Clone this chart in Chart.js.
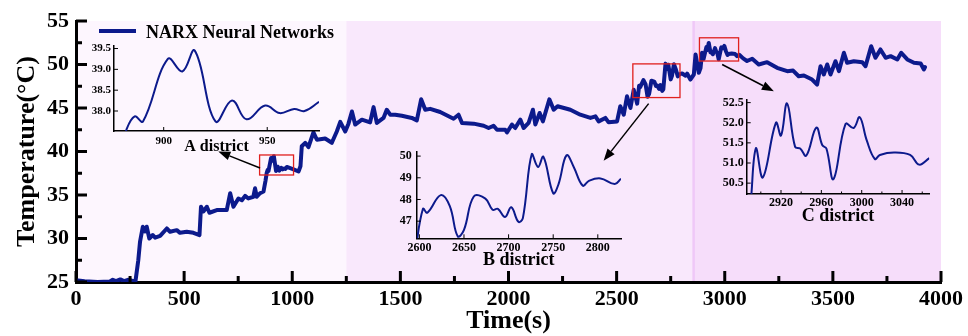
<!DOCTYPE html>
<html>
<head>
<meta charset="utf-8">
<script src="https://cdn.jsdelivr.net/npm/chart.js@4.4.0/dist/chart.umd.min.js"></script>
<style>
  body { margin: 0; background: #fff; }
  #wrap { position: relative; width: 968px; height: 336px; overflow: hidden; }
  canvas { position: absolute; }
  .legend-line { position: absolute; left: 99px; top: 29px; width: 37px; height: 4px; background: #0c1a8c; }
  .legend-text { position: absolute; left: 146px; top: 23px; font: bold 18px 'Liberation Serif', serif; line-height: 18px; color: #000; white-space: nowrap; }
</style>
</head>
<body>
<div id="wrap">
  <canvas id="main" width="968" height="336" style="left:0;top:0"></canvas>
  <canvas id="insetA" width="250" height="124" style="left:84px;top:36px"></canvas>
  <canvas id="insetB" width="250" height="132" style="left:380px;top:140px"></canvas>
  <canvas id="insetC" width="228" height="140" style="left:712px;top:90px"></canvas>
  <div class="legend-line"></div>
  <div class="legend-text">NARX Neural Networks</div>
</div>
<script>
// ---- data ----
const mainTime = [0, 40, 100, 157, 170, 185, 205, 222, 240, 260, 275, 288, 296, 309, 319, 327, 339, 355, 366, 389,
  420, 435, 466, 481, 512, 543, 571, 578, 589, 605, 617, 651, 697, 705, 713, 728, 751, 767, 782, 797,
  820, 828, 836, 851, 867, 876, 882, 886, 890, 902, 909, 915, 925, 933, 940, 949, 956, 963, 968, 975,
  1006, 1029, 1038, 1044, 1060, 1075, 1098, 1114, 1152, 1183, 1206, 1222, 1245, 1260, 1276, 1291, 1322, 1360, 1376, 1391,
  1422, 1437, 1453, 1476, 1507, 1553, 1576, 1596, 1615, 1638, 1684, 1746, 1769, 1785, 1839, 1885, 1908, 1931, 1947, 1985,
  1993, 2016, 2031, 2055, 2070, 2093, 2113, 2124, 2144, 2159, 2189, 2209, 2227, 2286, 2332, 2379, 2402, 2417, 2448, 2463,
  2502, 2517, 2533, 2548, 2564, 2579, 2595, 2604, 2609, 2624, 2634, 2643, 2650, 2661, 2674, 2682, 2688, 2696, 2703, 2711,
  2716, 2726, 2733, 2739, 2750, 2756, 2765, 2773, 2783, 2790, 2803, 2819, 2826, 2841, 2857, 2865, 2880, 2888, 2895, 2902,
  2915, 2920, 2926, 2934, 2939, 2945, 2955, 2961, 2965, 2972, 2984, 2992, 2998, 3005, 3013, 3018, 3032, 3048, 3057, 3067,
  3085, 3103, 3127, 3157, 3196, 3242, 3289, 3316, 3342, 3366, 3404, 3427, 3443, 3458, 3474, 3489, 3512, 3528, 3551, 3566,
  3597, 3636, 3651, 3677, 3697, 3720, 3744, 3767, 3798, 3816, 3844, 3875, 3906, 3921, 3926];
const mainTemp = [25.2, 25.1, 25.0, 25.05, 25.25, 25.1, 25.3, 25.1, 25.25, 25.15, 25.1, 27.5, 29.6, 31.35, 30.8, 31.35, 30.0, 30.4, 30.1, 30.3,
  31.15, 30.77, 30.96, 30.65, 30.77, 30.65, 30.39, 33.65, 33.1, 33.65, 32.96, 33.27, 33.27, 34.23, 35.2, 33.65, 34.6, 34.4, 34.9, 34.6,
  34.8, 35.77, 34.8, 35.2, 35.4, 36.6, 37.55, 37.87, 37.75, 39.25, 38.95, 39.45, 37.75, 38.25, 37.8, 38.13, 37.95, 38.05, 38.0, 38.22,
  37.95, 37.7, 38.3, 40.6, 41.0, 40.5, 42.2, 41.35, 41.5, 41.0, 42.3, 43.4, 42.3, 43.2, 44.6, 43.1, 43.66, 43.35, 45.1, 43.28,
  43.86, 44.8, 44.23, 44.23, 44.1, 43.86, 43.58, 46.0, 44.8, 44.9, 44.54, 43.77, 44.23, 43.28, 43.2, 42.96, 42.7, 42.96, 42.5, 42.5,
  42.19, 43.1, 42.7, 43.66, 42.7, 43.28, 44.8, 43.1, 44.43, 43.46, 46.0, 44.8, 45.2, 44.8, 44.23, 43.86, 44.04, 43.46, 43.86, 43.35,
  43.46, 45.2, 44.23, 46.35, 45.0, 47.1, 45.5, 47.57, 47.39, 48.2, 47.7, 46.3, 46.6, 48.14, 48.04, 47.53, 47.57, 47.19, 47.64, 46.97,
  47.14, 50.1, 49.5, 49.97, 48.29, 48.71, 50.04, 49.5, 48.64, 48.86, 48.97, 48.71, 48.96, 48.27, 48.85, 51.16, 49.04, 49.6, 51.36, 50.64,
  52.0, 51.68, 52.48, 51.4, 51.36, 51.18, 51.88, 51.44, 51.36, 50.6, 51.97, 51.87, 52.14, 51.56, 51.1, 51.2, 51.26, 51.2, 50.96, 51.12,
  50.7, 50.4, 50.66, 50.0, 50.27, 49.62, 49.23, 49.3, 48.65, 48.73, 48.27, 47.7, 49.8, 48.85, 50.0, 48.85, 50.38, 49.23, 51.35, 50.2,
  50.38, 50.27, 49.8, 52.1, 50.77, 51.73, 50.77, 50.96, 50.58, 51.35, 50.58, 50.2, 50.12, 49.43, 49.7];

// A district
const aTime = [876, 882, 886, 890, 902, 909, 915, 925, 933, 940, 949, 956, 963, 968, 975];
const aTemp = [36.6, 37.55, 37.87, 37.75, 39.25, 38.95, 39.45, 37.75, 38.25, 37.8, 38.13, 37.95, 38.05, 38.0, 38.22];
const aXTicks = [900, 950];
const aYTicks = [38.0, 38.5, 39.0, 39.5];
// B district
const bTime = [2595, 2604, 2609, 2624, 2634, 2643, 2650, 2661, 2674, 2682, 2688, 2696, 2703, 2711, 2716, 2726, 2733, 2739,
  2750, 2756, 2765, 2773, 2783, 2790, 2803, 2819, 2826];
const bTemp = [45.5, 47.57, 47.39, 48.2, 47.7, 46.3, 46.6, 48.14, 48.04, 47.53, 47.57, 47.19, 47.64, 46.97, 47.14, 50.1, 49.5, 49.97,
  48.29, 48.71, 50.04, 49.5, 48.64, 48.86, 48.97, 48.71, 48.96];
const bXTicks = [2600, 2650, 2700, 2750, 2800];
const bYTicks = [47, 48, 49, 50];
// C district
const cTime = [2880, 2888, 2895, 2902, 2915, 2920, 2926, 2934, 2939, 2945, 2955, 2961, 2965, 2972, 2984, 2992, 2998, 3005,
  3013, 3018, 3032, 3048, 3057, 3067];
const cTemp = [49.04, 49.6, 51.36, 50.64, 52.0, 51.68, 52.48, 51.4, 51.36, 51.18, 51.88, 51.44, 51.36, 50.6, 51.97, 51.87, 52.14, 51.56,
  51.1, 51.2, 51.26, 51.2, 50.96, 51.12];
const cXTicks = [2900, 2920, 2940, 2960, 2980, 3000, 3020, 3040, 3060];
const cYTicks = [50.5, 51.0, 51.5, 52.0, 52.5];

// shaded periods along the time axis
const zoneEdges = [0, 1250, 2856, 4000];
// zoomed boxes [t0, t1, T0, T1] and arrows [fromT, fromTemp, toT, toTemp], in data units
const zoomBoxes = [[849, 1006, 37.3, 39.6], [2575, 2793, 46.2, 50.07], [2883, 3064, 50.4, 53.07]];
const arrows = [[851, 38.1, 658, 40.0], [2648, 45.5, 2440, 38.93], [2988, 50.0, 3227, 46.92]];

const NAVY = '#0c1a8c';
const SERIF = "'Liberation Serif', 'Times New Roman', serif";
Chart.defaults.font.family = SERIF;
Chart.defaults.font.weight = 'bold';
Chart.defaults.color = '#000';

const toPoints = (xs, ys) => xs.map((x, i) => ({ x: x, y: ys[i] }));

// background bands behind the plot
const zonesPlugin = {
  id: 'zones',
  beforeDraw(chart, args, opts) {
    const { ctx, chartArea: a, scales: { x } } = chart;
    ctx.save();
    for (let i = 0; i < zoneEdges.length - 1; i++) {
      const x0 = x.getPixelForValue(zoneEdges[i]);
      const x1 = x.getPixelForValue(zoneEdges[i + 1]);
      ctx.fillStyle = opts.colors[i];
      ctx.fillRect(x0, a.top, x1 - x0, a.bottom - a.top);
    }
    const xe = x.getPixelForValue(zoneEdges[2]);
    ctx.strokeStyle = opts.edge;
    ctx.lineWidth = 2.5;
    ctx.beginPath(); ctx.moveTo(xe, a.top); ctx.lineTo(xe, a.bottom); ctx.stroke();
    ctx.restore();
  }
};

// red boxes + arrows pointing to the insets
const zoomMarks = {
  id: 'zoomMarks',
  afterDatasetsDraw(chart) {
    const { ctx, scales: { x, y } } = chart;
    ctx.save();
    ctx.strokeStyle = '#e0201e';
    ctx.lineWidth = 1.3;
    zoomBoxes.forEach(([t0, t1, v0, v1]) => {
      const l = x.getPixelForValue(t0), r = x.getPixelForValue(t1);
      const t = y.getPixelForValue(v1), b = y.getPixelForValue(v0);
      ctx.strokeRect(l, t, r - l, b - t);
    });
    ctx.strokeStyle = '#000';
    ctx.fillStyle = '#000';
    ctx.lineWidth = 1.5;
    arrows.forEach(([ft, fv, tt, tv]) => {
      const x0 = x.getPixelForValue(ft), y0 = y.getPixelForValue(fv);
      const x1 = x.getPixelForValue(tt), y1 = y.getPixelForValue(tv);
      const ang = Math.atan2(y1 - y0, x1 - x0);
      const head = 12, half = 4.5;
      const bx = x1 - head * Math.cos(ang), by = y1 - head * Math.sin(ang);
      ctx.beginPath(); ctx.moveTo(x0, y0); ctx.lineTo(bx, by); ctx.stroke();
      ctx.beginPath();
      ctx.moveTo(x1, y1);
      ctx.lineTo(bx + half * Math.sin(ang), by - half * Math.cos(ang));
      ctx.lineTo(bx - half * Math.sin(ang), by + half * Math.cos(ang));
      ctx.closePath(); ctx.fill();
    });
    ctx.restore();
  }
};

// tick marks pointing into the plot (long for labelled ticks, short otherwise)
const inTicks = {
  id: 'inTicks',
  afterDraw(chart, args, opts) {
    const { ctx, scales: { x, y } } = chart;
    ctx.save();
    ctx.strokeStyle = '#000';
    ctx.lineWidth = opts.width;
    x.ticks.forEach(t => {
      const p = x.getPixelForValue(t.value);
      const len = t.label === '' ? opts.minor : opts.major;
      ctx.beginPath(); ctx.moveTo(p, x.top); ctx.lineTo(p, x.top - len); ctx.stroke();
    });
    y.ticks.forEach(t => {
      const p = y.getPixelForValue(t.value);
      const len = t.label === '' ? opts.minor : opts.major;
      ctx.beginPath(); ctx.moveTo(y.right, p); ctx.lineTo(y.right + len, p); ctx.stroke();
    });
    ctx.restore();
  }
};

// main chart
new Chart(document.getElementById('main'), {
  type: 'line',
  data: {
    datasets: [{
      label: 'NARX Neural Networks',
      data: toPoints(mainTime, mainTemp),
      borderColor: NAVY,
      borderWidth: 4,
      pointRadius: 0,
      tension: 0,
      borderJoinStyle: 'round',
      borderCapStyle: 'round'
    }]
  },
  options: {
    responsive: false,
    animation: false,
    layout: { padding: { top: 21, right: 27, left: 0, bottom: 0 } },
    plugins: {
      legend: { display: false },
      tooltip: { enabled: false },
      zones: { colors: ['#fdf6fe', '#f9e8fc', '#f6ddfa'], edge: '#efc8f7' },
      inTicks: { major: 11, minor: 6, width: 3 }
    },
    scales: {
      x: {
        type: 'linear', min: 0, max: 4000,
        afterFit: s => { s.height = 54; },
        grid: { drawOnChartArea: false, drawTicks: false },
        border: { color: '#000', width: 3 },
        ticks: {
          stepSize: 250, autoSkip: false, maxRotation: 0, padding: 4,
          font: { size: 22, weight: 'bold' },
          callback: v => (v % 500 === 0 ? v : '')
        },
        title: { display: true, text: 'Time(s)', font: { size: 26, weight: 'bold', lineHeight: 1.1 }, padding: 0 }
      },
      y: {
        min: 25, max: 55,
        afterFit: s => { s.width = 76; },
        grid: { drawOnChartArea: false, drawTicks: false },
        border: { color: '#000', width: 3 },
        ticks: {
          stepSize: 2.5, autoSkip: false, padding: 7,
          font: { size: 22, weight: 'bold' },
          callback: v => (v % 5 === 0 ? v : '')
        },
        title: { display: true, text: 'Temperature(°C)', font: { size: 26, weight: 'bold' }, padding: { top: 12, bottom: 0 } }
      }
    }
  },
  plugins: [zonesPlugin, zoomMarks, inTicks]
});

// zoomed insets
function inset(id, xs, ys, o) {
  return new Chart(document.getElementById(id), {
    type: 'line',
    data: {
      datasets: [{ data: toPoints(xs, ys), borderColor: NAVY, borderWidth: 2, pointRadius: 0, tension: 0.4 }]
    },
    options: {
      responsive: false,
      animation: false,
      layout: { padding: { top: o.padTop, right: o.padRight, left: 0, bottom: 0 } },
      plugins: {
        legend: { display: false },
        tooltip: { enabled: false },
        inTicks: { major: 4, minor: 2.5, width: 1 }
      },
      scales: {
        x: {
          type: 'linear', min: o.xMin, max: o.xMax,
          afterFit: s => { s.height = o.xH; },
          afterBuildTicks: s => { s.ticks = o.xTicks.map(v => ({ value: v })); },
          grid: { drawOnChartArea: false, drawTicks: false },
          border: { color: '#000', width: 1.5 },
          ticks: {
            autoSkip: false, maxRotation: 0, padding: o.xPad,
            font: { size: o.tick, weight: 'bold' },
            callback: o.xLabel || (v => v)
          },
          title: { display: true, text: o.title, font: { size: o.titleSize, weight: 'bold' }, padding: { top: 0, bottom: o.titlePad } }
        },
        y: {
          min: o.yMin, max: o.yMax,
          afterFit: s => { s.width = o.yW; },
          afterBuildTicks: s => { s.ticks = o.yTicks.map(v => ({ value: v })); },
          grid: { drawOnChartArea: false, drawTicks: false },
          border: { color: '#000', width: 1.5 },
          ticks: {
            autoSkip: false, padding: o.yPad,
            font: { size: o.tick, weight: 'bold' },
            callback: o.yLabel || (v => v)
          }
        }
      }
    },
    plugins: [inTicks]
  });
}

inset('insetA', aTime, aTemp, {
  xMin: 876, xMax: 975, xTicks: aXTicks, yMin: 37.52, yMax: 39.57, yTicks: aYTicks,
  yLabel: v => v.toFixed(1), tick: 11, padTop: 6, padRight: 15, yW: 30, xH: 29,
  xPad: 4, yPad: 3, title: 'A district', titleSize: 16, titlePad: 4
});
inset('insetB', bTime, bTemp, {
  xMin: 2597, xMax: 2826, xTicks: bXTicks, yMin: 46.21, yMax: 50.18, yTicks: bYTicks,
  tick: 12, padTop: 5.7, padRight: 9, yW: 36.7, xH: 33.7,
  xPad: 2, yPad: 5, title: 'B district', titleSize: 18, titlePad: 1
});
inset('insetC', cTime, cTemp, {
  xMin: 2886, xMax: 3067, xTicks: cXTicks, xLabel: v => (v % 40 === 0 ? v : ''),
  yMin: 50.23, yMax: 52.56, yTicks: cYTicks, yLabel: v => v.toFixed(1),
  tick: 12, padTop: 6.7, padRight: 10.7, yW: 34.7, xH: 36,
  xPad: 2, yPad: 3, title: 'C district', titleSize: 18, titlePad: 2.7
});
</script>
</body>
</html>
